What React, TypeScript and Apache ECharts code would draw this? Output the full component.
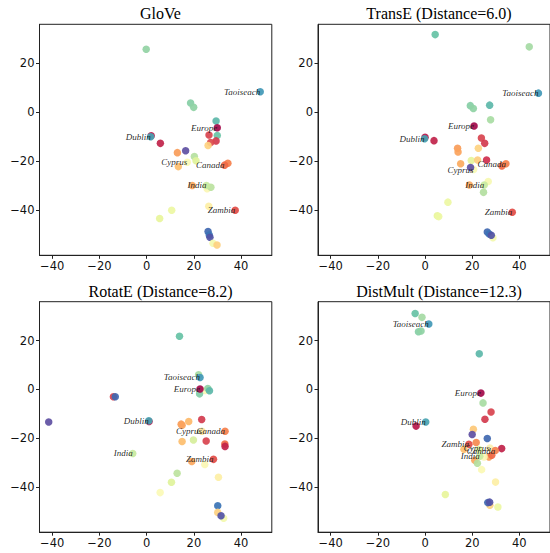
import { useEffect, useRef } from "react";
import * as echarts from "echarts";

// [x, y, color, label?]
type Pt = [number, number, string, string?];

const TAOISEACH_C = "#4198b6";
const DUBLIN_C = "#48a3b1";
const EUROPE_C = "#a3094a";

const panelTitles = [
  "GloVe",
  "TransE (Distance=6.0)",
  "RotatE (Distance=8.2)",
  "DistMult (Distance=12.3)",
];

const xTicks = [-40, -20, 0, 20, 40];
const yTicks = [20, 0, -20, -40];
const xRange = [-45.4, 53.0];
const yRange = [-58.4, 35.9];

const glovePoints: Pt[] = [
  [-0.2, 25.7, "#93d3a4"],
  [48.1, 8.4, TAOISEACH_C, "Taoiseach"],
  [18.6, 3.8, "#86cea5"],
  [19.9, 2.0, "#8fd2a4"],
  [29.4, -3.6, "#5cb7a9"],
  [29.9, -9.5, "#69c3a5"],
  [26.4, -9.3, "#d8434e"],
  [29.4, -11.7, "#d33b4e"],
  [27.1, -12.4, "#dc4a4c"],
  [26.0, -13.6, "#fed281"],
  [29.9, -6.3, EUROPE_C, "Europe"],
  [1.9, -9.6, "#b8174b"],
  [1.7, -10.0, DUBLIN_C, "Dublin"],
  [5.8, -12.7, "#c0234a"],
  [13.0, -16.5, "#f99c59"],
  [16.5, -15.7, "#5e4fa2"],
  [20.2, -18.1, "#b5e0a0"],
  [20.9, -19.8, "#e0f39b"],
  [17.2, -20.4, "#fbf8b4", "Cyprus"],
  [13.4, -22.2, "#fdbe6e"],
  [34.4, -20.8, "#f57f4b"],
  [33.0, -21.6, "#f06844", "Canada"],
  [19.3, -29.9, "#fba75d"],
  [25.6, -31.2, "#fbf6b4"],
  [27.2, -30.6, "#bbe2a0"],
  [25.3, -29.9, "#c8e99e", "India"],
  [26.3, -38.4, "#fdefa5"],
  [37.5, -40.0, "#e24b45", "Zambia"],
  [10.6, -40.0, "#edf7a3"],
  [5.5, -43.4, "#e8f59b"],
  [26.0, -48.7, "#4068b0"],
  [26.5, -50.1, "#3a73b5"],
  [26.8, -51.0, "#5153a5"],
  [28.1, -53.5, "#f3f8ae"],
  [29.8, -54.2, "#fdd080"],
];

const transePoints: Pt[] = [
  [4.3, 31.7, "#66c2a5"],
  [44.2, 26.7, "#a5daa4"],
  [48.1, 7.8, TAOISEACH_C, "Taoiseach"],
  [19.2, 2.7, "#86cea5"],
  [20.5, 1.5, "#8fd2a4"],
  [27.4, 2.9, "#5cb7a9"],
  [27.8, -3.1, "#a8dca3"],
  [20.8, -5.6, EUROPE_C, "Europe"],
  [23.9, -10.5, "#d8434e"],
  [25.3, -12.7, "#d33b4e"],
  [22.6, -14.7, "#fed281"],
  [0.0, -10.2, "#b8174b"],
  [-0.2, -10.8, DUBLIN_C, "Dublin"],
  [3.8, -11.6, "#c0234a"],
  [13.8, -14.7, "#f99c59"],
  [14.0, -16.2, "#fba35c"],
  [19.6, -19.7, "#e6f49b"],
  [22.3, -19.5, "#fdcd7e"],
  [26.1, -19.5, "#cf2f4d"],
  [15.1, -21.0, "#fbaa5e"],
  [20.6, -23.4, "#fbf8b4", "Cyprus"],
  [19.3, -22.6, "#5e4fa2"],
  [32.6, -21.9, "#f06844"],
  [34.3, -21.0, "#f57f4b", "Canada"],
  [18.8, -29.7, "#fba75d"],
  [26.8, -28.3, "#f6f9b2"],
  [25.1, -29.7, "#c8e99e", "India"],
  [24.8, -32.7, "#b3de9f"],
  [9.7, -36.7, "#edf7a3"],
  [5.2, -42.3, "#e8f59b"],
  [5.8, -42.6, "#edf7a3"],
  [37.0, -40.8, "#e24b45", "Zambia"],
  [26.4, -48.9, "#4068b0"],
  [27.2, -49.7, "#3a73b5"],
  [28.8, -51.2, "#f3f8ae"],
  [28.1, -50.2, "#5153a5"],
];

const rotatePoints: Pt[] = [
  [13.9, 21.8, "#66c2a5"],
  [22.0, 6.0, "#a5daa4"],
  [22.6, 4.9, TAOISEACH_C, "Taoiseach"],
  [24.8, -0.4, "#fbf8b4"],
  [25.9, 0.4, "#8fd2a4"],
  [26.6, -0.5, "#5cb7a9"],
  [22.4, -1.8, "#7fcba6"],
  [22.6, 0.2, EUROPE_C, "Europe"],
  [-14.1, -3.0, "#d8434e"],
  [-13.3, -3.0, "#4068b0"],
  [-41.5, -13.3, "#5e4fa2"],
  [1.0, -13.1, "#b8174b"],
  [0.9, -12.8, DUBLIN_C, "Dublin"],
  [14.6, -14.2, "#f99c59"],
  [15.0, -14.6, "#fba35c"],
  [17.8, -13.1, "#fdb869"],
  [23.3, -12.3, "#d33b4e"],
  [23.4, -17.1, "#fae29a", "Cyprus"],
  [33.2, -17.1, "#f57f4b", "Canada"],
  [15.0, -21.3, "#fdbe6e"],
  [19.8, -20.7, "#d6ee9b"],
  [25.2, -21.1, "#d8434e"],
  [33.1, -22.3, "#f06844"],
  [33.2, -23.3, "#c0234a"],
  [-5.9, -26.2, "#c8e99e", "India"],
  [19.1, -29.5, "#fba75d"],
  [28.3, -28.6, "#e24b45", "Zambia"],
  [24.6, -30.7, "#fbf6b4"],
  [30.4, -35.9, "#fdefa5"],
  [12.9, -34.3, "#bde39e"],
  [10.5, -38.0, "#e0f39b"],
  [5.7, -42.2, "#fbfab6"],
  [30.1, -47.6, "#3a73b5"],
  [30.1, -50.3, "#fdd080"],
  [32.6, -52.7, "#f3f8ae"],
  [31.5, -51.7, "#5153a5"],
];

const distmultPoints: Pt[] = [
  [-4.2, 31.1, "#66c2a5"],
  [-1.3, 29.5, "#a5daa4"],
  [1.6, 26.8, TAOISEACH_C, "Taoiseach"],
  [-2.8, 23.6, "#86cea5"],
  [-1.7, 23.9, "#8fd2a4"],
  [23.0, 14.6, "#5cb7a9"],
  [23.7, -1.5, EUROPE_C, "Europe"],
  [24.6, -5.5, "#a8dca3"],
  [28.0, -9.2, "#d8434e"],
  [25.4, -12.2, "#d33b4e"],
  [0.3, -13.3, DUBLIN_C, "Dublin"],
  [-3.8, -15.0, "#b8174b"],
  [20.5, -16.3, "#fdc877"],
  [20.0, -18.4, "#5e4fa2"],
  [26.4, -20.1, "#4068b0"],
  [21.7, -21.7, "#f58a4f"],
  [18.6, -22.4, "#e24b45", "Zambia"],
  [16.5, -24.5, "#fdbe6e"],
  [22.9, -24.6, "#e0f39b"],
  [32.5, -24.2, "#c0234a"],
  [27.1, -27.6, "#f99c59"],
  [28.3, -26.9, "#f06844"],
  [27.5, -24.0, "#fbf0b0", "Cyprus"],
  [29.8, -25.0, "#f57f4b", "Canada"],
  [21.1, -29.0, "#fba75d"],
  [25.0, -27.6, "#fbf6b4"],
  [22.2, -30.2, "#b5e0a0"],
  [23.2, -27.3, "#c8e99e", "India"],
  [24.0, -32.8, "#fbf8b4"],
  [29.9, -37.9, "#fdefa5"],
  [8.6, -43.0, "#e8f59b"],
  [27.5, -47.4, "#fdd080"],
  [26.6, -46.3, "#4068b0"],
  [27.4, -46.1, "#5153a5"],
  [30.9, -48.1, "#edf7a3"],
];

const panels = [glovePoints, transePoints, rotatePoints, distmultPoints];

const grids = [
  { left: 39.5, top: 24.3, width: 232.3, height: 231 },
  { left: 318, top: 24.3, width: 233, height: 231 },
  { left: 39.5, top: 301.7, width: 232.3, height: 230.5 },
  { left: 318, top: 301.7, width: 233, height: 230.5 },
];

const AX = "#222";
const minus = (v: number) => String(v).replace("-", "\u2212");

export default function App() {
  const ref = useRef<HTMLDivElement>(null);
  useEffect(() => {
    if (!ref.current) return;
    const chart = echarts.init(ref.current, null, { renderer: "svg" });
    const tickLabel = {
      fontFamily: "DejaVu Sans",
      fontSize: 11.5,
      color: "#111",
      formatter: minus,
    };
    chart.setOption({
      animation: false,
      backgroundColor: "#fff",
      title: panelTitles.map((t, i) => ({
        text: t,
        left: grids[i].left + 116,
        top: grids[i].top - 23.5,
        textAlign: "center",
        textStyle: {
          fontFamily: "Liberation Serif",
          fontSize: 16,
          fontWeight: "normal",
          color: "#000",
        },
      })),
      grid: grids.map((g) => ({
        ...g,
        show: true,
        borderColor: AX,
        borderWidth: 1,
        backgroundColor: "transparent",
      })),
      xAxis: grids.map((_, i) => ({
        gridIndex: i,
        type: "value",
        min: xRange[0],
        max: xRange[1],
        splitLine: { show: false },
        axisLine: { show: true, onZero: false, lineStyle: { color: AX, width: 1 } },
        axisTick: {
          show: true,
          length: 3.5,
          customValues: xTicks,
          lineStyle: { color: AX, width: 1 },
        },
        axisLabel: { ...tickLabel, margin: 5, customValues: xTicks },
      })),
      yAxis: grids.map((_, i) => ({
        gridIndex: i,
        type: "value",
        min: yRange[0],
        max: yRange[1],
        splitLine: { show: false },
        axisLine: { show: true, onZero: false, lineStyle: { color: AX, width: 1 } },
        axisTick: {
          show: true,
          length: 3.5,
          customValues: yTicks,
          lineStyle: { color: AX, width: 1 },
        },
        axisLabel: { ...tickLabel, margin: 5, customValues: yTicks },
      })),
      series: panels.map((pts, i) => ({
        type: "scatter",
        xAxisIndex: i,
        yAxisIndex: i,
        symbolSize: 7.5,
        silent: true,
        emphasis: { disabled: true },
        itemStyle: { opacity: 0.92 },
        label: {
          show: false,
          position: ["50%", "50%"],
          align: "right",
          verticalAlign: "middle",
          formatter: "{b}",
          fontFamily: "Liberation Serif",
          fontStyle: "italic",
          fontSize: 9,
          color: "#111",
        },
        data: pts.map((p) => ({
          value: [p[0], p[1]],
          name: p[3] || "",
          itemStyle: { color: p[2] },
          label: p[3] ? { show: true } : undefined,
        })),
      })),
    });
    return () => chart.dispose();
  }, []);
  return (
    <div
      ref={ref}
      style={{ position: "fixed", left: 0, top: 0, width: 550, height: 553 }}
    />
  );
}
